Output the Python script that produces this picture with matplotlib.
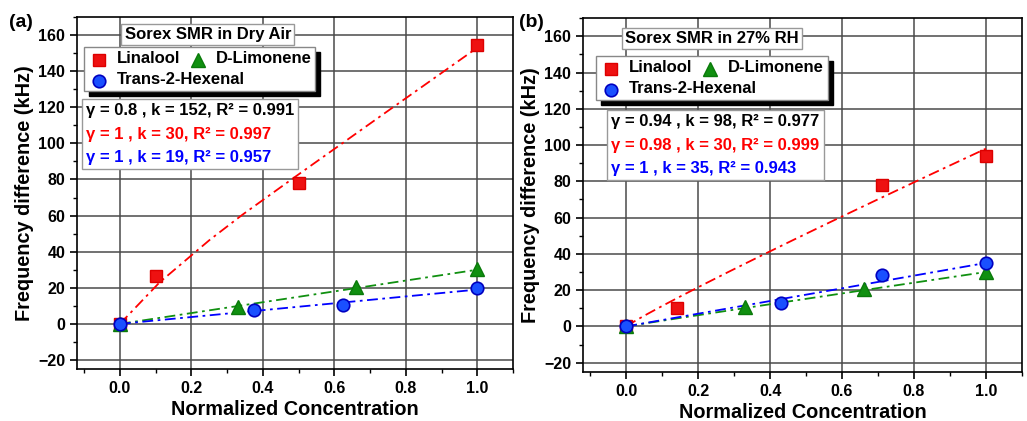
import numpy as np
import matplotlib
matplotlib.use("Agg")
import matplotlib.pyplot as plt
from matplotlib.ticker import MultipleLocator
from matplotlib.offsetbox import TextArea, VPacker, HPacker, DrawingArea, AnchoredOffsetbox
from matplotlib.lines import Line2D
from matplotlib.patches import Rectangle
from matplotlib.transforms import IdentityTransform

plt.rcParams['font.family'] = ['Liberation Sans', 'DejaVu Sans']
plt.rcParams['font.weight'] = 'bold'

# ---- data: panel (a) dry air ----
a_lin_x = [0.0, 0.1, 0.5, 1.0]
a_lin_y = [0.0, 26.5, 78.0, 154.5]
a_lim_x = [0.0, 0.33, 0.66, 1.0]
a_lim_y = [0.0, 9.6, 20.6, 30.4]
a_hex_x = [0.0, 0.375, 0.625, 1.0]
a_hex_y = [0.0, 7.5, 10.2, 20.0]
# drawn fit line for linalool
a_lin_fit_x = [0.0, 0.111, 0.251, 0.343, 0.487, 0.75, 1.0]
a_lin_fit_y = [0.0, 23.0, 46.5, 60.5, 81.0, 118.0, 153.0]
a_fit = {"lim": (1.0, 30), "hex": (1.0, 19)}
a_fit_text = ["γ = 0.8 , k = 152, R² = 0.991",
              "γ = 1 , k = 30, R² = 0.997",
              "γ = 1 , k = 19, R² = 0.957"]

# ---- data: panel (b) 27% RH ----
b_lin_x = [0.0, 0.14, 0.71, 1.0]
b_lin_y = [0.0, 9.9, 77.7, 94.0]
b_lim_x = [0.0, 0.33, 0.66, 1.0]
b_lim_y = [0.0, 10.6, 20.5, 30.2]
b_hex_x = [0.0, 0.43, 0.71, 1.0]
b_hex_y = [0.0, 12.8, 28.2, 34.8]
b_fit = {"lin": (0.94, 98), "lim": (0.98, 30), "hex": (1.0, 35)}
b_fit_text = ["γ = 0.94 , k = 98, R² = 0.977",
              "γ = 0.98 , k = 30, R² = 0.999",
              "γ = 1 , k = 35, R² = 0.943"]

series_names = ["Linalool", "D-Limonene", "Trans-2-Hexenal"]
text_colors = ["black", "#ff0000", "#0000ff"]

RED, GREEN, BLUE = "#ee1111", "#109010", "#1a50ff"
DASHDOT = (0, (6, 2.5, 1.5, 2.5))
MK = {
    "lin": dict(marker="s", ms=8, mfc=RED, mec="#dd0000"),
    "lim": dict(marker="^", ms=9.5, mfc=GREEN, mec="#0a7a0a"),
    "hex": dict(marker="o", ms=9, mfc=BLUE, mec="#0000c0", mew=1.2),
}

fig = plt.figure(figsize=(10.27, 4.21), dpi=100)
ax_a = fig.add_axes([0.075, 0.1235, 0.4245, 0.836])
ax_b = fig.add_axes([0.5677, 0.117, 0.4273, 0.840])

legend_boxes = []


def marker_area(key):
    da = DrawingArea(16, 12, 0, 0)
    da.add_artist(Line2D([8], [5], ls="none", **MK[key]))
    return da


def legend_box(ax, pos):
    fs = 12
    tp = dict(color="black", fontsize=fs, fontweight="bold")
    r1 = HPacker(children=[marker_area("lin"), TextArea(series_names[0], textprops=tp),
                           marker_area("lim"), TextArea(series_names[1], textprops=tp)],
                 align="center", pad=0, sep=5)
    r2 = HPacker(children=[marker_area("hex"), TextArea(series_names[2], textprops=tp)],
                 align="center", pad=0, sep=5)
    pack = VPacker(children=[r1, r2], align="left", pad=0, sep=3)
    box = AnchoredOffsetbox(loc="upper left", child=pack, pad=0.25, borderpad=0,
                            frameon=True, bbox_to_anchor=pos, bbox_transform=ax.transAxes)
    box.patch.set_boxstyle("square", pad=0)
    box.patch.set_facecolor("white")
    box.patch.set_edgecolor("#888888")
    box.set_zorder(7)
    ax.add_artist(box)
    legend_boxes.append((ax, box))


def draw_panel(ax, lin, lim, hexx, lin_fit_line, fit, fit_text, title, tpos, lpos, fpos, tag, tagx):
    xs = np.linspace(0, 1, 200)
    ax.plot(lin_fit_line[0], lin_fit_line[1], color="#ff0000", ls=DASHDOT, lw=1.3, zorder=3)
    g, k = fit["lim"]
    ax.plot(xs, k * xs**g, color="#109010", ls=DASHDOT, lw=1.3, zorder=3)
    g, k = fit["hex"]
    ax.plot(xs, k * xs**g, color="#0000ff", ls=DASHDOT, lw=1.3, zorder=3)

    ax.plot(lin[0], lin[1], ls="none", zorder=4, **MK["lin"])
    ax.plot(lim[0], lim[1], ls="none", zorder=4, **MK["lim"])
    ax.plot(hexx[0], hexx[1], ls="none", zorder=5, **MK["hex"])

    ax.set_xlim(-0.12, 1.1)
    ax.set_ylim(-25, 170)
    ax.xaxis.set_minor_locator(MultipleLocator(0.1))
    ax.yaxis.set_minor_locator(MultipleLocator(10))
    ax.set_xticks([0, 0.2, 0.4, 0.6, 0.8, 1.0])
    ax.set_xticklabels(["0.0", "0.2", "0.4", "0.6", "0.8", "1.0"])
    ax.set_yticks(np.arange(-20, 161, 20))
    ax.set_yticklabels(["\u221220"] + [str(v) for v in range(0, 161, 20)])
    ax.tick_params(which="major", direction="out", length=5, width=1.2, labelsize=11.5)
    ax.tick_params(which="minor", direction="out", length=3, width=1.0)
    ax.grid(True, which="major", color="#4a4a4a", lw=1.1)
    ax.set_axisbelow(True)
    for s in ax.spines.values():
        s.set_linewidth(1.2)
    ax.set_xlabel("Normalized Concentration", fontsize=14.3, fontweight="bold", labelpad=3)
    ax.set_ylabel("Frequency difference (kHz)", fontsize=14.3, fontweight="bold", labelpad=3)

    ax.text(tpos[0], tpos[1], title, transform=ax.transAxes, ha="center", va="center",
            fontsize=12, fontweight="bold", zorder=6,
            bbox=dict(boxstyle="square,pad=0.2", fc="white", ec="#999999", lw=1))

    legend_box(ax, lpos)

    areas = [TextArea(t, textprops=dict(color=c, fontsize=12, fontweight="bold"))
             for t, c in zip(fit_text, text_colors)]
    pack = VPacker(children=areas, align="left", pad=0, sep=6)
    box = AnchoredOffsetbox(loc="upper left", child=pack, pad=0.3, borderpad=0,
                            frameon=True, bbox_to_anchor=fpos,
                            bbox_transform=ax.transAxes)
    box.patch.set_boxstyle("square", pad=0)
    box.patch.set_edgecolor("#999999")
    box.patch.set_facecolor("white")
    box.set_zorder(6)
    ax.add_artist(box)

    fig.text(tagx, 0.947, tag, fontsize=14, fontweight="bold", ha="left", va="center")


b_lin_fit_x = np.linspace(0, 1, 200)
b_lin_fit_y = b_fit["lin"][1] * b_lin_fit_x ** b_fit["lin"][0]

draw_panel(ax_a, (a_lin_x, a_lin_y), (a_lim_x, a_lim_y), (a_hex_x, a_hex_y),
           (a_lin_fit_x, a_lin_fit_y), a_fit, a_fit_text, "Sorex SMR in Dry Air",
           (0.30, 0.95), (0.016, 0.915), (0.011, 0.767), "(a)", 0.009)
draw_panel(ax_b, (b_lin_x, b_lin_y), (b_lim_x, b_lim_y), (b_hex_x, b_hex_y),
           (b_lin_fit_x, b_lin_fit_y), b_fit, b_fit_text, "Sorex SMR in 27% RH",
           (0.294, 0.942), (0.030, 0.893), (0.055, 0.74), "(b)", 0.505)

# black drop shadows behind the legend boxes
fig.canvas.draw()
renderer = fig.canvas.get_renderer()
for ax, box in legend_boxes:
    bb = box.get_window_extent(renderer)
    sh = Rectangle((bb.x0 + 5, bb.y0 - 5), bb.width, bb.height, transform=IdentityTransform(),
                   facecolor="black", edgecolor="black", zorder=6.9, clip_on=False)
    ax.add_artist(sh)

fig.savefig("out.png", dpi=100)
